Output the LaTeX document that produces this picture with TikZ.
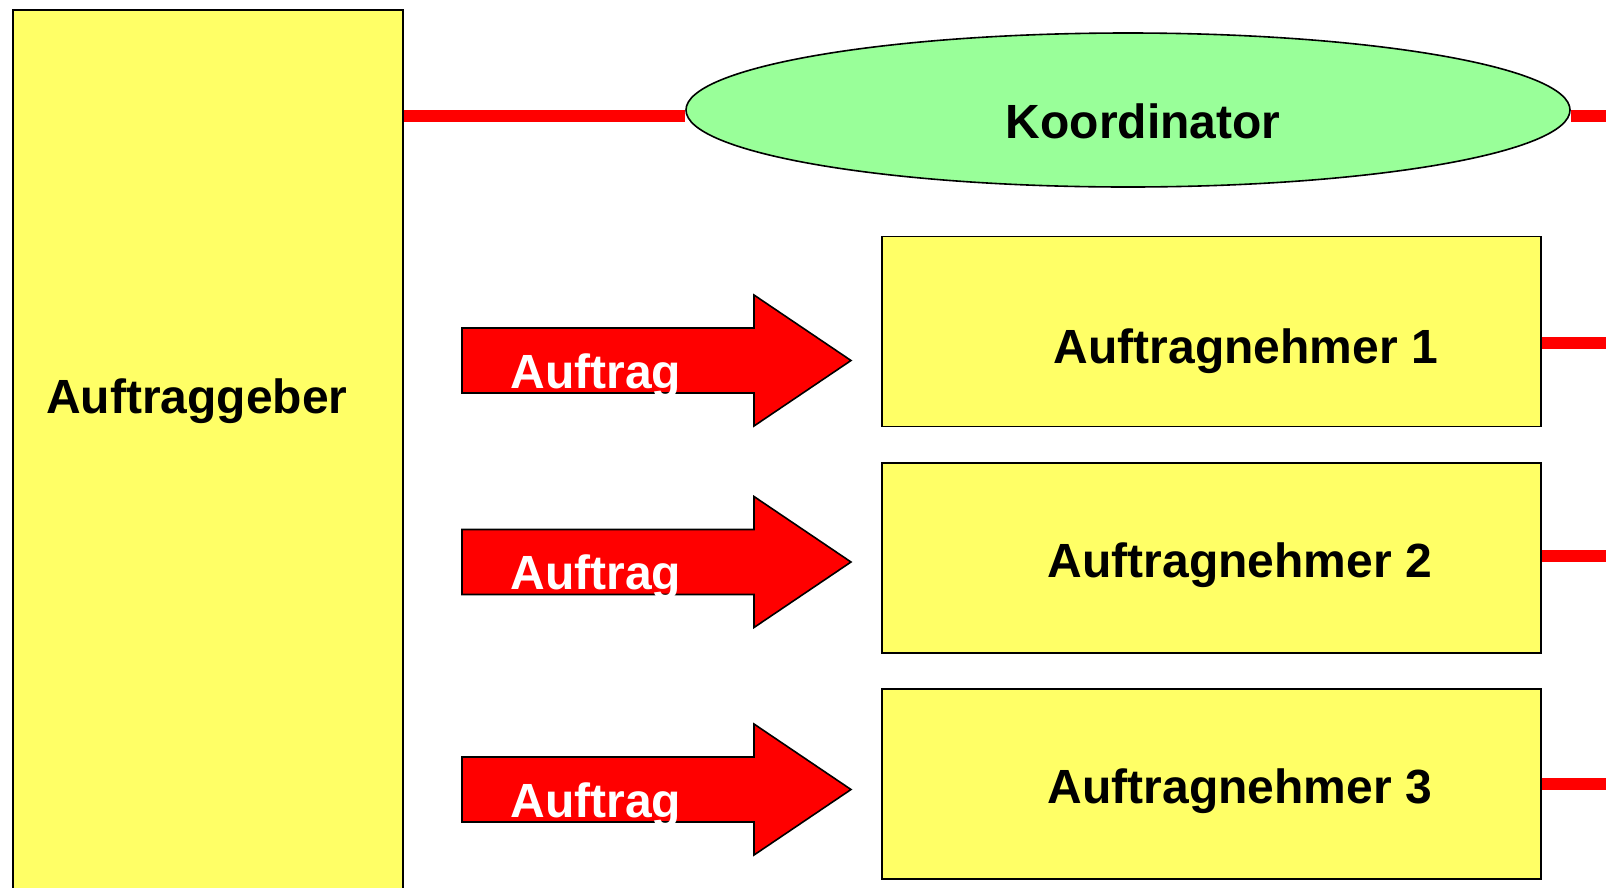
\documentclass[tikz,border=0pt]{standalone}
\usepackage{fontspec}
\setmainfont{Liberation Sans}
\usetikzlibrary{shapes.geometric}
\definecolor{boxyellow}{HTML}{FFFF66}
\definecolor{koordgreen}{HTML}{99FF99}
\definecolor{linkred}{HTML}{FF0000}
\tikzset{
  box/.style={draw=black, line width=1.6pt, fill=boxyellow, inner sep=0pt, anchor=north west},
  lbl/.style={font=\fontsize{48}{57}\selectfont\bfseries, anchor=base, inner sep=0pt, text=black},
  wlbl/.style={lbl, text=white},
  link/.style={draw=linkred, line width=12pt},
  arr/.style={fill=linkred, draw=black, line width=1.6pt, line join=miter},
  auftragpfeil/.pic={
    \draw[arr] (0,0) -- (292,0) -- (292,-33) -- (389,32.5) -- (292,98) -- (292,65) -- (0,65) -- cycle;
    \node[wlbl] (-t) at (134,60) {Auftrag};
  }
}
\begin{document}
\begin{tikzpicture}[x=1pt,y=-1pt]
\useasboundingbox (0,0) rectangle (1606,887);
% Auftraggeber
\node[box, minimum width=390pt, minimum height=900pt] (ag) at (12,9) {};
\node[lbl] (agt) at (197,413) {Auftraggeber};
% Koordinator
\node[ellipse, draw=black, line width=1.6pt, fill=koordgreen, minimum width=884pt, minimum height=154pt, inner sep=0pt] (ko) at (1128,110) {};
\node[lbl] (kot) at (1143,138) {Koordinator};
\coordinate (kend) at (1606,116);
\draw[link] (ag.east |- kend) -- (ko.west |- kend);
\draw[link] (ko.east |- kend) -- (kend);
% Auftragnehmer
\node[box, minimum width=659pt, minimum height=190pt] (an1) at (881,235.5) {};
\node[box, minimum width=659pt, minimum height=190pt] (an2) at (881,462) {};
\node[box, minimum width=659pt, minimum height=190pt] (an3) at (881,688) {};
\node[lbl] (an1t) at (1246,363) {Auftragnehmer 1};
\node[lbl] (an2t) at (1240,577) {Auftragnehmer 2};
\node[lbl] (an3t) at (1240,803.5) {Auftragnehmer 3};
\coordinate (e1) at (1606,343);
\coordinate (e2) at (1606,556);
\coordinate (e3) at (1606,784);
\draw[link] (an1.east |- e1) -- (e1);
\draw[link] (an2.east |- e2) -- (e2);
\draw[link] (an3.east |- e3) -- (e3);
% Auftrag arrows
\pic (p1) at (462,328) {auftragpfeil};
\pic (p2) at (462,529.5) {auftragpfeil};
\pic (p3) at (462,757) {auftragpfeil};
\end{tikzpicture}
\end{document}
